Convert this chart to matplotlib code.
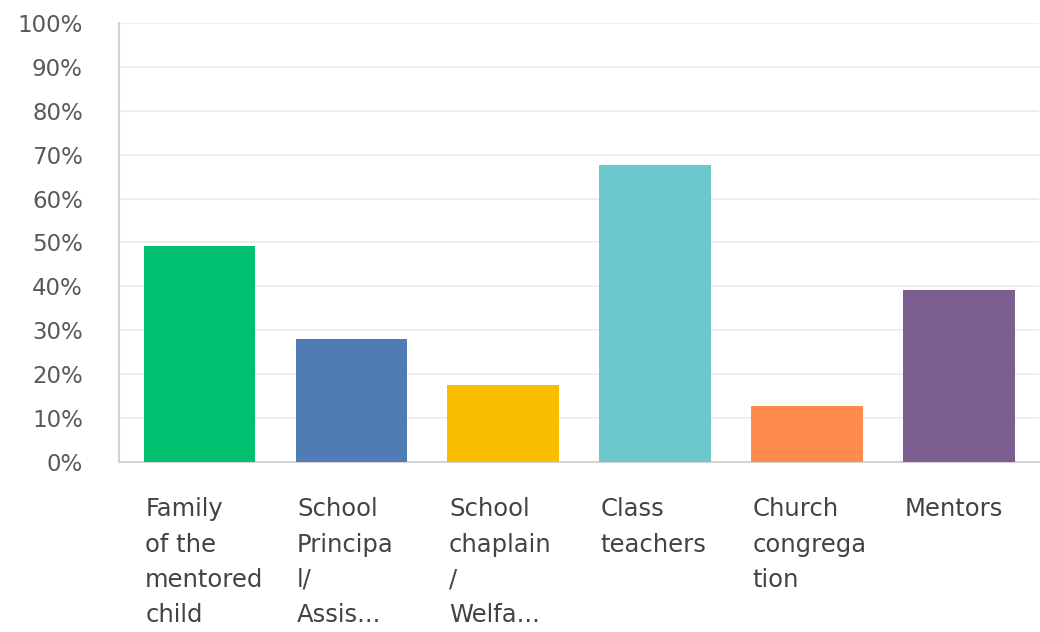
import matplotlib
matplotlib.use("Agg")
import matplotlib.pyplot as plt
import matplotlib.transforms as mtransforms
from matplotlib.ticker import FuncFormatter

# answer options (wrapped / cut the same way as the survey export)
labels = [
    "Family\nof the\nmentored\nchild",
    "School\nPrincipa\nl/\nAssis...",
    "School\nchaplain\n/\nWelfa...",
    "Class\nteachers",
    "Church\ncongrega\ntion",
    "Mentors",
]
values = [49.2, 28.0, 17.5, 67.7, 12.8, 39.2]
colors = ["#00BF6F", "#507CB6", "#F9BE00", "#6BC8CD", "#FF8B4F", "#7D5E90"]
yticks = list(range(0, 101, 10))

plt.rcParams['font.family'] = ['DejaVu Sans']

fig = plt.figure(figsize=(10.4, 6.32), dpi=100)
ax = fig.add_axes([0.1144, 0.269, 0.885, 0.6946])

width = 0.735
x = list(range(len(values)))
ax.bar(x, values, width=width, color=colors, zorder=3)

ax.set_xlim(-0.53, len(values) - 0.47)
ax.set_ylim(0, 100)
ax.set_yticks(yticks)
ax.yaxis.set_major_formatter(FuncFormatter(lambda v, p: f"{int(v)}%"))
ax.tick_params(axis='y', length=0, pad=26, labelsize=16.5, labelcolor="#555a5e")
ax.set_xticks([])
ax.grid(axis='y', color="#ebebeb", linewidth=1.2, zorder=0)

for side in ['top', 'right']:
    ax.spines[side].set_visible(False)
for side in ['left', 'bottom']:
    ax.spines[side].set_color("#d4d4d4")
    ax.spines[side].set_linewidth(1.5)

# category labels, left aligned under each bar
trans = mtransforms.blended_transform_factory(ax.transData, ax.transAxes)
for i, lab in enumerate(labels):
    ax.text(i - width / 2 + 0.01, -0.08, lab, transform=trans, ha='left', va='top',
            fontsize=17.5, color="#3f4448", linespacing=1.6)

fig.savefig("out.png", dpi=100)
